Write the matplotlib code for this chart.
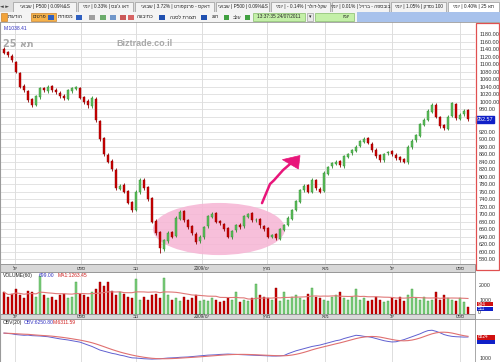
import matplotlib
matplotlib.use('Agg')
import matplotlib.pyplot as plt
import numpy as np
import pandas as pd
from matplotlib.patches import Rectangle, Ellipse, Polygon
from matplotlib.transforms import blended_transform_factory as btf

plt.rcParams['font.family'] = ['Liberation Sans', 'DejaVu Sans']

def h(s):
    """visual (left-to-right) order of a Hebrew word"""
    return s[::-1]

# ---------------- data ----------------
opens = [1140,1132,1122,1105,1075,1042,1028,1008,992,1012,
         1036,1028,1042,1032,1024,1016,1008,1028,1034,1036,
         1012,1002,988,1008,948,902,858,842,818,768,
         778,762,732,712,758,792,772,742,682,652,
         608,628,652,642,688,707,683,667,648,627,
         638,667,693,702,682,673,662,638,657,672,
         667,693,702,683,687,668,662,638,647,633,
         658,672,688,712,733,763,777,758,792,768,
         762,808,827,833,842,828,853,862,868,882,
         893,902,888,872,857,843,862,867,858,852,
         847,838,878,897,908,938,952,973,992,958,
         937,928,962,993,953,967,977]
highs = [1145,1136,1126,1108,1078,1046,1032,1010,1018,1040,
         1040,1045,1045,1035,1027,1019,1034,1040,1042,1040,
         1015,1006,1014,1012,952,905,862,846,822,780,
         782,765,736,765,796,795,776,745,686,655,
         634,654,656,694,710,710,688,670,652,645,
         668,698,705,706,685,677,665,658,674,676,
         698,704,705,690,690,672,665,648,650,664,
         674,694,714,738,768,779,780,795,794,772,
         814,829,838,845,845,858,864,874,884,898,
         905,906,892,876,860,864,869,870,862,856,
         850,884,899,914,944,955,979,995,995,962,
         940,964,1000,996,970,980,980]
lows = [1126,1120,1106,1076,1036,1025,1000,985,988,1008,
        1025,1024,1026,1020,1010,1005,1004,1024,1030,1006,
        994,984,984,945,895,855,835,815,765,764,
        755,726,705,708,754,765,735,676,645,596,
        602,624,636,638,684,680,660,645,620,622,
        634,662,690,676,670,656,636,634,652,660,
        662,690,680,680,664,655,636,635,630,630,
        654,668,685,708,730,760,755,755,765,755,
        758,804,822,830,825,824,850,858,865,878,
        889,886,865,850,840,840,858,855,845,840,
        835,834,874,893,905,934,948,970,955,930,
        925,925,958,950,950,962,948]
closes = [1130,1125,1110,1080,1040,1030,1005,990,1015,1035,
          1030,1040,1030,1025,1015,1010,1030,1035,1038,1010,
          1000,990,1010,950,900,860,840,820,770,775,
          760,730,710,760,790,770,740,680,650,610,
          630,650,640,690,705,685,665,650,625,640,
          665,695,700,680,675,660,640,655,670,665,
          695,700,685,685,670,660,640,645,635,660,
          670,690,710,735,765,775,760,790,770,760,
          810,825,835,840,830,855,860,870,880,895,
          900,890,870,855,845,860,865,860,850,845,
          840,880,895,910,940,950,975,990,960,935,
          930,960,995,955,965,975,952.57]
volumes = [1500,1200,1400,1700,1300,1100,1600,1500,1200,2600,
           1300,1100,1200,1000,1300,1400,1100,1200,2200,1400,
           1300,1200,1500,1700,2200,1900,2200,1600,1300,1500,
           1400,1200,1100,2400,1000,1200,1000,1300,1400,1100,
           2500,1300,1000,1100,900,1200,1000,1100,1300,900,
           1000,900,1100,1000,800,900,1100,1000,1500,800,
           1000,900,1100,2100,1300,1200,1100,1000,1800,900,
           1500,1000,1200,1300,1100,1000,1400,1800,1200,1100,
           1000,900,1200,1300,1500,1100,1000,1200,1700,1000,
           1100,900,1000,1200,1000,800,900,1100,1000,1200,
           900,1300,1700,1100,1000,1200,900,1000,1500,1000,
           1300,1100,1000,900,1100,800,511]
obv = [7900,7800,7700,7500,7400,7300,7350,7200,7150,7100,
       7000,6900,6700,6500,6300,6150,6000,5800,5600,5400,
       5000,4600,4200,3700,3200,2900,2600,2300,2100,1800,
       1600,1300,1050,1000,900,800,750,700,750,800,
       900,1000,1050,1100,1200,1250,1300,1400,1500,1600,
       1700,1800,1850,1900,2000,2050,2100,2050,2000,1950,
       1900,1850,1800,1750,1700,1650,1600,1550,1550,1600,
       1700,2200,2600,3000,3300,3600,3900,4200,4400,4600,
       4900,5200,5500,5800,6000,6400,6700,7000,7300,7200,
       7000,6900,6700,6400,6100,5800,5600,5450,5500,5800,
       6100,6500,6900,7300,7700,8200,8600,8700,8400,8000,
       7500,7200,7000,6900,6850,6800,6824]

month_labels = ['יול', 'ספט', 'נוב', 'ינו', 'מרץ', 'מאי', 'יול', 'ספט']
month_years = ['', '', '', '2009/', '', '', '', '']
month_tick_idx = [2.75, 19.25, 33, 49.5, 65.75, 80.25, 97, 114]
price_ticks = list(range(580, 1181, 20))
vol_ticks = [0, 1000, 2000]

tabs = [("שבועי", "P500 | 0.09%&S", ""),
        ("יומי", "0.33%", "דאו ג'ונס"),
        ("שבועי", "3.72%", "דאקס - פרנקפורט"),
        ("שבועי", "P500 | 0.09%&S", ""),
        ("יומי", "- 0.14%", "שקל-דולר"),
        ("יומי", "0.01%", "בובספה - ברזיל"),
        ("יומי", "1.05%", "נסדק 100"),
        ("יומי", "0.40%", "25 תא")]

# ---------------- figure ----------------
W, H = 500, 362
fig = plt.figure(figsize=(W/100, H/100), dpi=100)
ui = fig.add_axes([0, 0, 1, 1])
ui.set_xlim(0, W); ui.set_ylim(H, 0); ui.axis('off')

def rect(x0, y0, x1, y1):
    return [x0/W, 1-y1/H, (x1-x0)/W, (y1-y0)/H]

# top tab bar
ui.add_patch(Rectangle((0, 0), W, 12, fc='#dcdcdc', ec='none'))
ui.text(5, 6.5, '◄ ►', fontsize=3.5, va='center', ha='center', color='#444', family='DejaVu Sans')
tab_x = [(13, 77), (78, 134), (135, 215), (216, 270), (271, 331), (332, 390), (391, 447), (448, 500)]
for (a, b), (w1, mid, w2) in zip(tab_x, tabs):
    sel = (a == 448)
    ui.add_patch(Rectangle((a, 1.5), b-a-1, 10, fc='#ffffff' if sel else '#f3f3f3', ec='#9a9a9a', lw=0.5))
    if w2:
        if w2.startswith('25'):
            right = '25 ' + h('תא')
        elif w2.endswith('100'):
            right = h('נסדק') + ' 100'
        else:
            right = h(w2)
        txt = f"{h(w1)} | {mid} | {right}"
    else:
        txt = f"{h(w1)} | {mid}"
    ui.text((a+b)/2, 6.8, txt, fontsize=3.4, ha='center', va='center', color='#222')

# toolbar
ui.add_patch(Rectangle((0, 12), W, 10, fc='#f4f4f4', ec='none'))
ui.add_patch(Rectangle((357, 12), 143, 10, fc='#a8c2ec', ec='none'))
ui.add_patch(Rectangle((0.5, 13), 6, 8, fc='#f2a33a', ec='#c07010', lw=0.4))
ui.text(8, 17, h('הודעות'), fontsize=3.6, va='center', color='#222')
ui.add_patch(Rectangle((31, 13), 25, 8, fc='#f5b24a', ec='#c07010', lw=0.4))
ui.add_patch(Rectangle((48, 14.5), 6, 5, fc='#3060c0', ec='none'))
ui.text(33, 17, h('פרטים'), fontsize=3.6, va='center', color='#222')
ui.add_patch(Rectangle((76, 14.5), 6, 5, fc='#3060c0', ec='none'))
ui.text(58, 17, h('מסודות'), fontsize=3.6, va='center', color='#222')
for xx, cc in [(89, '#8a8a8a'), (100, '#4a9a4a'), (110, '#5080c0'), (120, '#c03030'), (128, '#d04040')]:
    ui.add_patch(Rectangle((xx, 14.5), 6, 5, fc=cc, ec='none', alpha=0.8))
ui.text(137, 17, h('כתיבונה'), fontsize=3.6, va='center', color='#222')
ui.add_patch(Rectangle((159, 14.5), 6, 5, fc='#2050b0', ec='none'))
ui.text(170, 17, h('תצורת לסנה'), fontsize=3.6, va='center', color='#222')
ui.add_patch(Rectangle((201, 14.5), 6, 5, fc='#2050b0', ec='none'))
ui.text(212, 17, h('חנג'), fontsize=3.6, va='center', color='#222')
ui.add_patch(Rectangle((224, 14.5), 5, 5, fc='#40a040', ec='none'))
ui.text(233, 17, h('עלב'), fontsize=3.6, va='center', color='#222')
ui.add_patch(Rectangle((245, 14.5), 5, 5, fc='#40a040', ec='none'))
ui.add_patch(Rectangle((253, 13), 52, 8, fc='#c4f0a8', ec='#70b050', lw=0.4))
ui.text(279, 17, '13:37:35 24/07/2011', fontsize=3.4, va='center', ha='center', color='#222')
ui.add_patch(Rectangle((307, 13), 6, 8, fc='#e8e8e8', ec='#909090', lw=0.4))
ui.text(310, 17, '▾', fontsize=3.5, va='center', ha='center', color='#222', family='DejaVu Sans')
ui.add_patch(Rectangle((315, 13), 39, 8, fc='#c4f0a8', ec='#70b050', lw=0.4))
ui.text(350, 17, h('יומי'), fontsize=3.6, va='center', ha='right', color='#222')

# ---------------- panels ----------------
main = fig.add_axes(rect(0, 22, 475, 264))
vol = fig.add_axes(rect(0, 272, 475, 314))
obx = fig.add_axes(rect(0, 319, 475, 362))

idx = np.arange(len(closes))
o = np.array(opens, float); c = np.array(closes, float)
hi = np.array(highs, float); lo = np.array(lows, float)
up = c >= o
RED, RED_E = '#cc0000', '#8a0000'
GRN, GRN_E = '#5cbf5c', '#2e8a2e'

xlim = (-1, 117.75)
for ax in (main, vol, obx):
    ax.set_xlim(*xlim)
    ax.set_xticks(month_tick_idx)
    ax.tick_params(axis='x', length=0, labelbottom=False)
    for s in ax.spines.values():
        s.set_visible(False)
    ax.grid(True, axis='x', color='#d8d8d8', lw=0.6)
    ax.set_axisbelow(True)

# main price panel
main.set_ylim(566.7, 1212)
main.yaxis.tick_right()
main.set_yticks(price_ticks)
# labels hidden behind the current-price flag
main.set_yticklabels(['' if abs(v - closes[-1]) < 15 else f'{v:.2f}' for v in price_ticks])
main.tick_params(axis='y', length=0, pad=3, labelsize=4, labelcolor='#333')
main.grid(True, axis='y', color='#dedede', lw=0.6)

main.add_patch(Ellipse((53.75, 660), 33, 139, fc='#f6b4d4', ec='none', alpha=0.85, zorder=1.5))
main.vlines(idx, lo, hi, colors=np.where(up, GRN_E, RED_E), lw=0.6, zorder=3)
main.bar(idx, np.maximum(np.abs(c-o), 1.5), bottom=np.minimum(o, c), width=0.5,
         color=np.where(up, GRN, RED), edgecolor=np.where(up, GRN_E, RED_E), lw=0.3, zorder=4)

# hand drawn arrow
main.plot([64.5, 66.5, 67.5, 69.75, 71.8], [729, 780, 790, 817, 836], color='#e8157a', lw=1.8,
          solid_capstyle='round', zorder=5)
main.add_patch(Polygon([[69.6, 845], [74.0, 856], [73.6, 820]], closed=True, fc='#e8157a',
                       ec='#e8157a', lw=0.5, zorder=5))

main.text(0.008, 0.985, 'M:1038.41', transform=main.transAxes, fontsize=3.6, color='#3030c0',
          va='top', ha='left')
main.text(0.006, 0.93, '25 ' + h('תא'), transform=main.transAxes, fontsize=7, color='#a8a8a8',
          fontweight='bold', va='top', ha='left', family=['DejaVu Sans'])
main.text(0.305, 0.93, 'Biztrade.co.il', transform=main.transAxes, fontsize=6.5, color='#a8a8a8',
          fontweight='bold', va='top', ha='center')

# current price flag
tr = btf(main.transAxes, main.transData)
main.text(1.004, closes[-1], f'{closes[-1]:.2f}', transform=tr, fontsize=4, color='white',
          va='center', ha='left', clip_on=False,
          bbox=dict(boxstyle='square,pad=0.15', fc='#1020c8', ec='#1020c8'))

# volume panel
vol_ma = pd.Series(volumes, dtype=float).rolling(21, min_periods=1).mean()
vol.set_ylim(0, 2900)
vol.bar(idx, volumes, width=0.62, color=np.where(up, '#80d080', RED),
        edgecolor=np.where(up, '#3a9a3a', RED_E), lw=0.3, zorder=3)
vol.plot(idx, vol_ma, color='#e07878', lw=0.8, zorder=4)
vol.yaxis.tick_right()
vol.set_yticks(vol_ticks)
vol.set_yticklabels(['', '1000', '2000'])
vol.tick_params(axis='y', length=0, pad=3, labelsize=3.8, labelcolor='#333')
vol.text(0.006, 0.985, 'VOLUME(60)', transform=vol.transAxes, fontsize=3.6, color='#222', va='top')
vol.text(0.082, 0.985, '699.00', transform=vol.transAxes, fontsize=3.6, color='#3030c0', va='top')
vol.text(0.122, 0.985, 'MA1:1263.45', transform=vol.transAxes, fontsize=3.6, color='#d02020', va='top')

# OBV panel
obv_ma = pd.Series(obv, dtype=float).rolling(7, min_periods=1).mean()
obx.set_ylim(-101, 11810)
obx.plot(idx, obv, color='#6060d0', lw=0.7, zorder=3)
obx.plot(idx, obv_ma, color='#e07070', lw=0.8, zorder=4)
obx.yaxis.tick_right()
obx.set_yticks([1000])
obx.tick_params(axis='y', length=0, pad=3, labelsize=3.8, labelcolor='#333')
obx.text(0.006, 0.97, 'OBV(20)', transform=obx.transAxes, fontsize=3.6, color='#222', va='top')
obx.text(0.049, 0.97, 'OBV:6250.80', transform=obx.transAxes, fontsize=3.6, color='#3030c0', va='top')
obx.text(0.11, 0.97, 'M:6311.59', transform=obx.transAxes, fontsize=3.6, color='#d02020', va='top')

# ---------------- frames, bands, flags ----------------
ui.set_zorder(-1)
over = fig.add_axes([0, 0, 1, 1]); over.set_xlim(0, W); over.set_ylim(H, 0); over.axis('off')
over.patch.set_alpha(0)

trb = btf(main.transData, over.transData)
for y0, y1 in [(264, 272), (314, 319)]:
    over.add_patch(Rectangle((0, y0), 475, y1-y0, fc='#d8d8d8', ec='#8a8a8a', lw=0.6))
    for pos, lab, yr in zip(month_tick_idx, month_labels, month_years):
        over.text(pos, (y0+y1)/2+0.3, yr + h(lab), transform=trb, fontsize=3.4, ha='center',
                  va='center', color='#333')
over.plot([0, 500], [22, 22], color='#9a9a9a', lw=0.6)
over.plot([475, 475], [272, 362], color='#9a9a9a', lw=0.6)
over.plot([475, 500], [319, 319], color='#9a9a9a', lw=0.6)
over.plot([0, 0], [22, 362], color='#9a9a9a', lw=0.8)
over.add_patch(Rectangle((475.5, 22.5), 23.5, 247, fc='none', ec='#e05050', lw=0.9))

# value flags drawn as boxes + text
over.text(478, 313, '0', fontsize=3.6, color='#333', va='center', ha='left')
for (txt, y0, fc) in [('934', 301.5, '#d01010'), ('511', 306.5, '#1020c8')]:
    over.add_patch(Rectangle((477, y0), 16, 4.8, fc=fc, ec='none'))
    over.text(478, y0 + 2.5, txt, fontsize=3.3, color='white', va='center', ha='left')
over.add_patch(Rectangle((477, 339), 18, 4.5, fc='#1020c8', ec='none'))
over.add_patch(Rectangle((477, 334.5), 18, 5, fc='#d01010', ec='none'))
over.text(478, 337, '6824', fontsize=3.4, color='white', va='center', ha='left')

fig.savefig('out.png', dpi=100)
